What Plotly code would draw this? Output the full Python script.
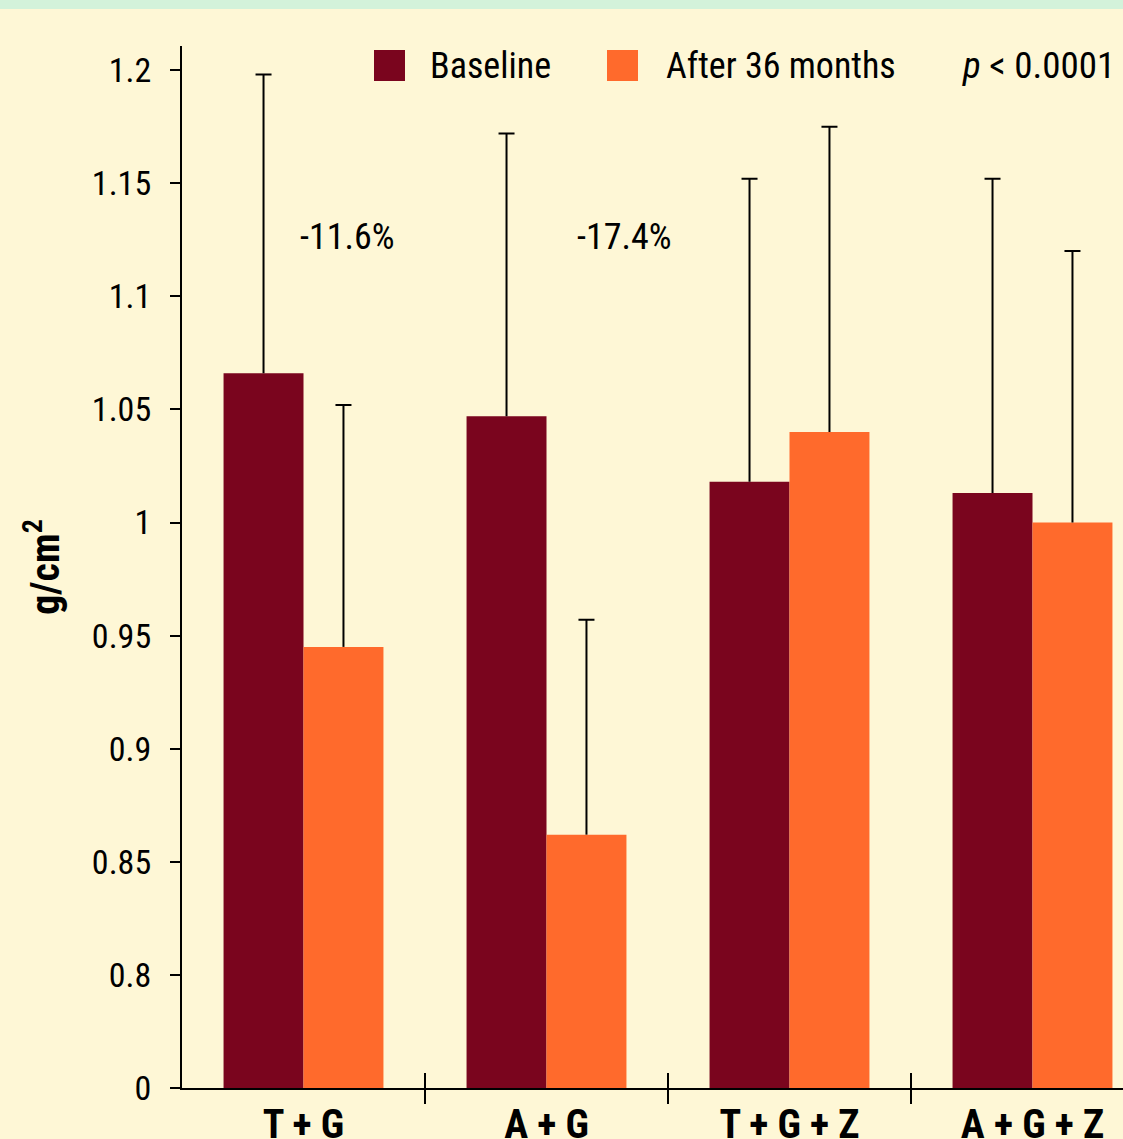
import plotly.graph_objects as go

categories = ["T + G", "A + G", "T + G + Z", "A + G + Z"]
baseline = [1.066, 1.047, 1.018, 1.013]
baseline_err = [0.132, 0.125, 0.134, 0.139]
after = [0.945, 0.862, 1.040, 1.000]
after_err = [0.107, 0.095, 0.135, 0.120]
ytick_vals = [0.75, 0.8, 0.85, 0.9, 0.95, 1.0, 1.05, 1.1, 1.15, 1.2]
ytick_text = ["0", "0.8", "0.85", "0.9", "0.95", "1", "1.05", "1.1", "1.15", "1.2"]
change_labels = ["-11.6%", "-17.4%"]

W, H = 1123, 1139
L, R, T, B = 182, 1123, 46, 1088
FONT = "Liberation Sans Narrow, Roboto Condensed, DejaVu Sans Condensed, Arial Narrow, sans-serif"
BG = "#fef7d6"
C1 = "#7a051e"
C2 = "#ff6a2c"

def px(x):
    return (x - L) / (R - L)

def py(y):
    return (B - y) / (B - T)

xs = list(range(len(categories)))
zeros = [0] * len(categories)
baseline_top = [v + e for v, e in zip(baseline, baseline_err)]
after_top = [v + e for v, e in zip(after, after_err)]

fig = go.Figure()
fig.add_trace(go.Bar(
    x=xs, y=baseline, name="Baseline", marker_color=C1, marker_line_width=0,
    offsetgroup="a",
    error_y=dict(type="data", array=baseline_err, arrayminus=zeros, symmetric=False,
                 color="black", thickness=2, width=0),
))
fig.add_trace(go.Bar(
    x=xs, y=after, name="After 36 months", marker_color=C2, marker_line_width=0,
    offsetgroup="b",
    error_y=dict(type="data", array=after_err, arrayminus=zeros, symmetric=False,
                 color="black", thickness=2, width=0),
))
# caps at the top of the error bars (invisible bars sharing the groups)
fig.add_trace(go.Bar(
    x=xs, y=baseline_top, marker_color="rgba(0,0,0,0)", marker_line_width=0,
    offsetgroup="a", hoverinfo="skip",
    error_y=dict(type="data", array=zeros, arrayminus=zeros, symmetric=False,
                 color="black", thickness=2, width=8),
))
fig.add_trace(go.Bar(
    x=xs, y=after_top, marker_color="rgba(0,0,0,0)", marker_line_width=0,
    offsetgroup="b", hoverinfo="skip",
    error_y=dict(type="data", array=zeros, arrayminus=zeros, symmetric=False,
                 color="black", thickness=2, width=8),
))

fig.update_layout(
    width=W, height=H,
    margin=dict(l=L, r=W - R, t=T, b=H - B, pad=0, autoexpand=False),
    paper_bgcolor=BG, plot_bgcolor=BG,
    barmode="group", bargap=0.342, bargroupgap=0,
    showlegend=False,
    font=dict(family=FONT, color="black", size=34),
    xaxis=dict(
        range=[-0.5, -0.5 + (R - L) / 243.0],
        tickmode="array", tickvals=xs, ticktext=["<b>%s</b>" % c for c in categories],
        ticks="", showgrid=False, zeroline=False, automargin=False,
        showline=True, linecolor="black", linewidth=2,
        tickfont=dict(size=40, family=FONT),
        ticklabelstandoff=0,
        minor=dict(tickmode="array", tickvals=[0.5, 1.5, 2.5], ticks="outside",
                   ticklen=14, tickwidth=2, tickcolor="black", showgrid=False),
    ),
    xaxis2=dict(
        overlaying="x", anchor="y", automargin=False,
        range=[-0.5, -0.5 + (R - L) / 243.0],
        tickmode="array", tickvals=[0.5, 1.5, 2.5], ticks="inside",
        ticklen=15, tickwidth=2, tickcolor="black",
        showticklabels=False, showgrid=False, zeroline=False, showline=False,
        side="bottom",
    ),
    yaxis=dict(
        range=[0.75, 0.75 + (B - T) / 2262.0],
        tickmode="array", tickvals=ytick_vals, ticktext=ytick_text,
        ticks="outside", ticklen=10, tickwidth=2, tickcolor="black",
        showgrid=False, zeroline=False, automargin=False,
        showline=True, linecolor="black", linewidth=2,
        tickfont=dict(size=34, family=FONT),
        ticklabelstandoff=12,
        title=dict(text="<b>g/cm<sup>2</sup></b>", font=dict(size=40, family=FONT), standoff=20),
    ),
)

# invisible trace to activate xaxis2
fig.add_trace(go.Scatter(x=[0], y=[0.5], xaxis="x2", mode="markers",
                         marker=dict(opacity=0), showlegend=False, hoverinfo="skip"))

# top strip
fig.add_shape(type="rect", xref="paper", yref="paper",
              x0=px(0) - 0.01, x1=px(W) + 0.01, y0=py(9), y1=py(-2),
              fillcolor="#d3f2da", line_width=0, layer="above")

# legend (manual)
fig.add_shape(type="rect", xref="paper", yref="paper",
              x0=px(374), x1=px(405), y0=py(81), y1=py(50),
              fillcolor=C1, line_width=0)
fig.add_shape(type="rect", xref="paper", yref="paper",
              x0=px(607), x1=px(638), y0=py(81), y1=py(50),
              fillcolor=C2, line_width=0)
fig.add_annotation(xref="paper", yref="paper", x=px(428), y=py(66), text="Baseline",
                   showarrow=False, xanchor="left", yanchor="middle", font=dict(size=36))
fig.add_annotation(xref="paper", yref="paper", x=px(664), y=py(66), text="After 36 months",
                   showarrow=False, xanchor="left", yanchor="middle", font=dict(size=36))
fig.add_annotation(xref="paper", yref="paper", x=px(960), y=py(66), text="<i>p</i> &lt; 0.0001",
                   showarrow=False, xanchor="left", yanchor="middle", font=dict(size=37))

# change annotations
fig.add_annotation(x=0.18, y=1.126, text=change_labels[0], showarrow=False,
                   xanchor="center", yanchor="middle", font=dict(size=36))
fig.add_annotation(x=1.32, y=1.126, text=change_labels[1], showarrow=False,
                   xanchor="center", yanchor="middle", font=dict(size=36))

fig.write_html("out.html", config={"displayModeBar": False},
               post_script="document.body.style.margin='0px';document.body.style.padding='0px';document.body.style.overflow='hidden';")
